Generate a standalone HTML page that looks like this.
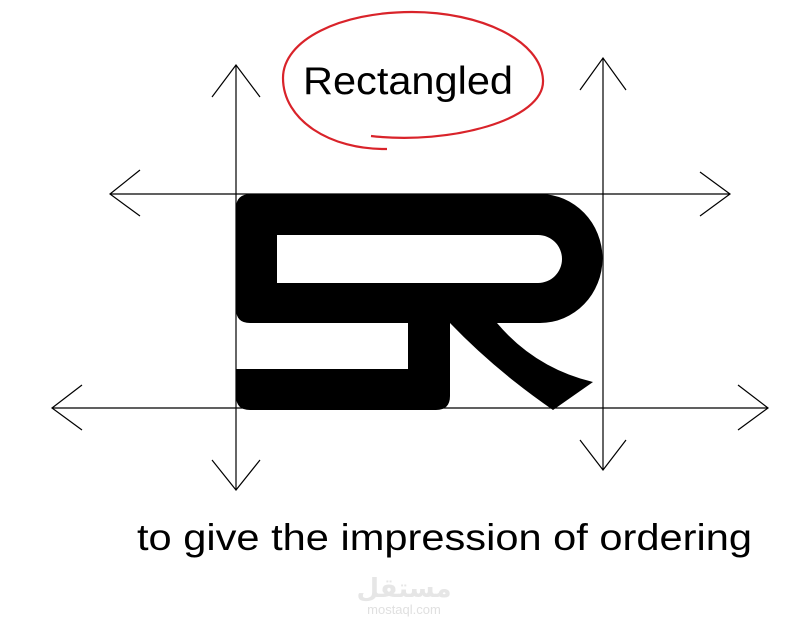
<!DOCTYPE html>
<html><head><style>
html,body{margin:0;padding:0;background:#fff;}
svg{display:block}
</style></head><body>
<svg width="808" height="632" viewBox="0 0 808 632" xmlns="http://www.w3.org/2000/svg">
<g stroke="#000" stroke-width="1.2" fill="none">
<line x1="110" y1="194" x2="730" y2="194"/>
<polyline points="140,170 110,194 140,216"/>
<polyline points="700,172 730,194 700,216"/>
<line x1="52" y1="408" x2="768" y2="408"/>
<polyline points="82,385 52,408 82,430"/>
<polyline points="738,385 768,408 738,430"/>
<line x1="236" y1="65" x2="236" y2="490"/>
<polyline points="212,97 236,65 260,97"/>
<polyline points="212,460 236,490 260,460"/>
<line x1="603" y1="58" x2="603" y2="470"/>
<polyline points="580,90 603,58 626,90"/>
<polyline points="580,440 603,470 626,440"/>
</g>
<path fill="#000" fill-rule="evenodd" d="
M251,194 H540 A62,64 0 0 1 540,323 H497 Q535,368 593,382 L553,410 Q495,370 450,323 V396 Q450,410 436,410 H250 Q236,410 236,396 V369 H408 V323 H250 Q236,323 236,309 V208 Q236,194 251,194 Z
M277,235 H538 A24,24 0 0 1 538,283 H277 Z"/>
<path d="M371,136 C450,145 545,120 543,80 C541,40 480,12 412,12 C340,12 283,40 283,78 C283,120 330,150 387,149" stroke="#d9232a" stroke-width="2.2" fill="none"/>
<text x="303" y="94" font-family="Liberation Sans, sans-serif" font-size="39" textLength="210" lengthAdjust="spacingAndGlyphs" fill="#000">Rectangled</text>
<text x="137" y="550" font-family="Liberation Sans, sans-serif" font-size="37" textLength="615" lengthAdjust="spacingAndGlyphs" fill="#000">to give the impression of ordering</text>
<text x="404" y="597" font-family="Liberation Sans, 'DejaVu Sans', sans-serif" font-size="26" font-weight="bold" text-anchor="middle" fill="#e6e6e6">مستقل</text>
<text x="404" y="614" font-family="Liberation Sans, sans-serif" font-size="13" text-anchor="middle" fill="#e0e0e0">mostaql.com</text>
</svg>
</body></html>
